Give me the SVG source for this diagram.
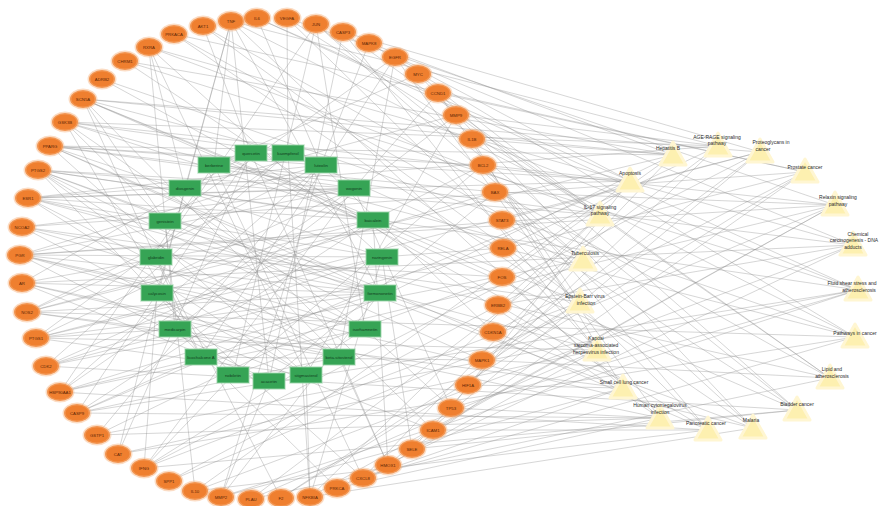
<svg xmlns="http://www.w3.org/2000/svg" width="883" height="506" viewBox="0 0 883 506">
<style>
.bg{fill:#ffffff}
#edges path{stroke:#8a8a8a;stroke-width:0.65;fill:none;stroke-opacity:0.55}
.o ellipse{fill:#ef7f2f;stroke:#f7b27c;stroke-width:3;stroke-opacity:0.45}
.g rect{fill:#36a455;stroke:#9fd6ab;stroke-width:1.5;stroke-opacity:0.6}
.p polygon{fill:#fdf0b0;stroke:#fff6d2;stroke-width:3;stroke-linejoin:round}
.o text{font-family:"Liberation Sans",Arial,sans-serif;font-size:4.3px;fill:#5b2506;text-anchor:middle;dominant-baseline:central}
.g text{font-family:"Liberation Sans",Arial,sans-serif;font-size:4.3px;fill:#123d1e;text-anchor:middle;dominant-baseline:central}
.p text{font-family:"Liberation Sans",Arial,sans-serif;font-size:5px;fill:#2b2b2b;text-anchor:middle}
</style>
<rect class="bg" x="0" y="0" width="883" height="506"/>
<g id="edges">
<path d="M77 413L630 181"/><path d="M77 413L858 290"/><path d="M77 413L660 418"/>
<path d="M60 392L835 205"/><path d="M60 392L708 430"/>
<path d="M46 366L797 410"/><path d="M46 366L583 260"/><path d="M46 366L805 172"/>
<path d="M36 338L597 350"/><path d="M36 338L760 152"/>
<path d="M27 312L673 155"/><path d="M27 312L855 337"/><path d="M27 312L623 388"/>
<path d="M22 283L853 245"/><path d="M22 283L660 418"/>
<path d="M20 255L753 428"/><path d="M20 255L600 215"/><path d="M20 255L835 205"/>
<path d="M22 227L580 302"/><path d="M22 227L805 172"/>
<path d="M28 198L718 146"/><path d="M28 198L830 378"/><path d="M28 198L597 350"/>
<path d="M38 170L858 290"/><path d="M38 170L623 388"/>
<path d="M50 146L708 430"/><path d="M50 146L630 181"/><path d="M50 146L853 245"/>
<path d="M65 122L583 260"/><path d="M65 122L835 205"/>
<path d="M83 99L760 152"/><path d="M83 99L797 410"/><path d="M83 99L580 302"/>
<path d="M102 79L855 337"/><path d="M102 79L597 350"/>
<path d="M125 61L660 418"/><path d="M125 61L673 155"/><path d="M125 61L858 290"/>
<path d="M149 47L600 215"/><path d="M149 47L853 245"/>
<path d="M174 34L805 172"/><path d="M174 34L753 428"/><path d="M174 34L583 260"/>
<path d="M203 26L830 378"/><path d="M203 26L580 302"/>
<path d="M231 21L623 388"/><path d="M231 21L718 146"/><path d="M231 21L855 337"/>
<path d="M257 18L630 181"/><path d="M257 18L858 290"/>
<path d="M287 18L835 205"/><path d="M287 18L708 430"/><path d="M287 18L600 215"/>
<path d="M316 24L797 410"/><path d="M316 24L583 260"/>
<path d="M343 32L597 350"/><path d="M343 32L760 152"/><path d="M343 32L830 378"/>
<path d="M369 43L673 155"/><path d="M369 43L855 337"/>
<path d="M395 57L853 245"/><path d="M395 57L660 418"/><path d="M395 57L630 181"/>
<path d="M418 74L753 428"/><path d="M418 74L600 215"/>
<path d="M438 93L580 302"/><path d="M438 93L805 172"/><path d="M438 93L797 410"/>
<path d="M456 115L718 146"/><path d="M456 115L830 378"/>
<path d="M472 139L858 290"/><path d="M472 139L623 388"/><path d="M472 139L673 155"/>
<path d="M483 165L708 430"/><path d="M483 165L630 181"/>
<path d="M495 192L583 260"/><path d="M495 192L835 205"/><path d="M495 192L753 428"/>
<path d="M502 220L760 152"/><path d="M502 220L797 410"/>
<path d="M503 248L855 337"/><path d="M503 248L597 350"/><path d="M503 248L718 146"/>
<path d="M502 277L660 418"/><path d="M502 277L673 155"/>
<path d="M498 305L600 215"/><path d="M498 305L853 245"/><path d="M498 305L708 430"/>
<path d="M493 332L805 172"/><path d="M493 332L753 428"/>
<path d="M482 360L830 378"/><path d="M482 360L580 302"/><path d="M482 360L760 152"/>
<path d="M468 385L623 388"/><path d="M468 385L718 146"/>
<path d="M451 408L630 181"/><path d="M451 408L858 290"/><path d="M451 408L660 418"/>
<path d="M433 430L835 205"/><path d="M433 430L708 430"/>
<path d="M412 449L797 410"/><path d="M412 449L583 260"/><path d="M412 449L805 172"/>
<path d="M388 465L597 350"/><path d="M388 465L760 152"/>
<path d="M363 478L673 155"/><path d="M363 478L855 337"/><path d="M363 478L623 388"/>
<path d="M337 488L853 245"/><path d="M337 488L660 418"/>
<path d="M310 497L753 428"/><path d="M310 497L600 215"/><path d="M310 497L835 205"/>
<path d="M281 498L580 302"/><path d="M281 498L805 172"/>
<path d="M251 499L718 146"/><path d="M251 499L830 378"/><path d="M251 499L597 350"/>
<path d="M221 497L858 290"/><path d="M221 497L623 388"/>
<path d="M195 491L708 430"/><path d="M195 491L630 181"/><path d="M195 491L853 245"/>
<path d="M169 481L583 260"/><path d="M169 481L835 205"/>
<path d="M144 468L760 152"/><path d="M144 468L797 410"/><path d="M144 468L580 302"/>
<path d="M118 454L855 337"/><path d="M118 454L597 350"/>
<path d="M97 435L660 418"/><path d="M97 435L673 155"/><path d="M97 435L858 290"/>
<path d="M65 122L718 146"/><path d="M50 146L673 155"/><path d="M38 170L600 215"/><path d="M83 99L673 155"/><path d="M28 198L630 181"/>
<path d="M251 153L77 413"/><path d="M251 153L203 26"/><path d="M251 153L483 165"/><path d="M251 153L388 465"/><path d="M251 153L22 283"/>
<path d="M288 153L36 338"/><path d="M288 153L287 18"/><path d="M288 153L503 248"/><path d="M288 153L310 497"/><path d="M288 153L83 99"/>
<path d="M321 165L20 255"/><path d="M321 165L369 43"/><path d="M321 165L493 332"/><path d="M321 165L221 497"/><path d="M321 165L257 18"/>
<path d="M354 188L38 170"/><path d="M354 188L438 93"/><path d="M354 188L451 408"/><path d="M354 188L144 468"/><path d="M354 188L28 198"/>
<path d="M373 220L83 99"/><path d="M373 220L483 165"/><path d="M373 220L388 465"/><path d="M373 220L77 413"/><path d="M373 220L502 277"/>
<path d="M382 257L149 47"/><path d="M382 257L503 248"/><path d="M382 257L310 497"/><path d="M382 257L36 338"/><path d="M382 257L412 449"/>
<path d="M380 293L231 21"/><path d="M380 293L493 332"/><path d="M380 293L221 497"/><path d="M380 293L20 255"/><path d="M380 293L27 312"/>
<path d="M365 329L316 24"/><path d="M365 329L451 408"/><path d="M365 329L144 468"/><path d="M365 329L38 170"/><path d="M365 329L60 392"/>
<path d="M339 357L395 57"/><path d="M339 357L388 465"/><path d="M339 357L77 413"/><path d="M339 357L83 99"/><path d="M339 357L28 198"/>
<path d="M306 375L456 115"/><path d="M306 375L310 497"/><path d="M306 375L36 338"/><path d="M306 375L149 47"/><path d="M306 375L50 146"/>
<path d="M269 381L495 192"/><path d="M269 381L221 497"/><path d="M269 381L20 255"/><path d="M269 381L231 21"/><path d="M269 381L343 32"/>
<path d="M233 375L502 277"/><path d="M233 375L144 468"/><path d="M233 375L38 170"/><path d="M233 375L316 24"/><path d="M233 375L483 165"/>
<path d="M201 357L482 360"/><path d="M201 357L77 413"/><path d="M201 357L83 99"/><path d="M201 357L395 57"/><path d="M201 357L65 122"/>
<path d="M175 329L433 430"/><path d="M175 329L36 338"/><path d="M175 329L149 47"/><path d="M175 329L456 115"/><path d="M175 329L337 488"/>
<path d="M157 293L363 478"/><path d="M157 293L20 255"/><path d="M157 293L231 21"/><path d="M157 293L495 192"/><path d="M157 293L144 468"/>
<path d="M156 257L281 498"/><path d="M156 257L38 170"/><path d="M156 257L316 24"/><path d="M156 257L502 277"/><path d="M156 257L27 312"/>
<path d="M165 221L195 491"/><path d="M165 221L83 99"/><path d="M165 221L395 57"/><path d="M165 221L482 360"/><path d="M165 221L65 122"/>
<path d="M185 188L118 454"/><path d="M185 188L149 47"/><path d="M185 188L456 115"/><path d="M185 188L433 430"/><path d="M185 188L231 21"/>
<path d="M214 165L60 392"/><path d="M214 165L231 21"/><path d="M214 165L495 192"/><path d="M214 165L363 478"/><path d="M214 165L418 74"/>
<path d="M27 312L373 220"/><path d="M22 283L380 293"/><path d="M20 255L354 188"/><path d="M22 227L365 329"/>
<path d="M28 198L321 165"/><path d="M38 170L373 220"/><path d="M50 146L354 188"/><path d="M65 122L288 153"/>
<path d="M22 283L339 357"/><path d="M22 227L306 375"/><path d="M50 146L380 293"/><path d="M28 198L382 257"/>
<path d="M46 366L373 220"/><path d="M60 392L354 188"/><path d="M97 435L321 165"/><path d="M118 454L251 153"/>
<path d="M27 312L321 165"/><path d="M27 312L339 357"/><path d="M22 283L373 220"/><path d="M22 283L269 381"/>
<path d="M20 255L382 257"/><path d="M20 255L365 329"/><path d="M22 227L354 188"/><path d="M22 227L380 293"/>
<path d="M28 198L306 375"/><path d="M28 198L373 220"/><path d="M38 170L380 293"/><path d="M38 170L339 357"/>
<path d="M50 146L321 165"/><path d="M50 146L382 257"/><path d="M65 122L373 220"/><path d="M65 122L365 329"/>
<path d="M36 338L354 188"/><path d="M36 338L380 293"/><path d="M46 366L382 257"/><path d="M46 366L288 153"/>
<path d="M60 392L380 293"/><path d="M60 392L321 165"/>
</g>
<g id="n-CASP9" class="o"><ellipse cx="77" cy="413" rx="13" ry="9"/><text x="77" y="413">CASP9</text></g>
<g id="n-HSP90AA1" class="o"><ellipse cx="60" cy="392" rx="13" ry="9"/><text x="60" y="392">HSP90AA1</text></g>
<g id="n-CDK2" class="o"><ellipse cx="46" cy="366" rx="13" ry="9"/><text x="46" y="366">CDK2</text></g>
<g id="n-PTGS1" class="o"><ellipse cx="36" cy="338" rx="13" ry="9"/><text x="36" y="338">PTGS1</text></g>
<g id="n-NOS2" class="o"><ellipse cx="27" cy="312" rx="13" ry="9"/><text x="27" y="312">NOS2</text></g>
<g id="n-AR" class="o"><ellipse cx="22" cy="283" rx="13" ry="9"/><text x="22" y="283">AR</text></g>
<g id="n-PGR" class="o"><ellipse cx="20" cy="255" rx="13" ry="9"/><text x="20" y="255">PGR</text></g>
<g id="n-NCOA2" class="o"><ellipse cx="22" cy="227" rx="13" ry="9"/><text x="22" y="227">NCOA2</text></g>
<g id="n-ESR1" class="o"><ellipse cx="28" cy="198" rx="13" ry="9"/><text x="28" y="198">ESR1</text></g>
<g id="n-PTGS2" class="o"><ellipse cx="38" cy="170" rx="13" ry="9"/><text x="38" y="170">PTGS2</text></g>
<g id="n-PPARG" class="o"><ellipse cx="50" cy="146" rx="13" ry="9"/><text x="50" y="146">PPARG</text></g>
<g id="n-GSK3B" class="o"><ellipse cx="65" cy="122" rx="13" ry="9"/><text x="65" y="122">GSK3B</text></g>
<g id="n-SCN5A" class="o"><ellipse cx="83" cy="99" rx="13" ry="9"/><text x="83" y="99">SCN5A</text></g>
<g id="n-ADRB2" class="o"><ellipse cx="102" cy="79" rx="13" ry="9"/><text x="102" y="79">ADRB2</text></g>
<g id="n-CHRM1" class="o"><ellipse cx="125" cy="61" rx="13" ry="9"/><text x="125" y="61">CHRM1</text></g>
<g id="n-RXRA" class="o"><ellipse cx="149" cy="47" rx="13" ry="9"/><text x="149" y="47">RXRA</text></g>
<g id="n-PRKACA" class="o"><ellipse cx="174" cy="34" rx="13" ry="9"/><text x="174" y="34">PRKACA</text></g>
<g id="n-AKT1" class="o"><ellipse cx="203" cy="26" rx="13" ry="9"/><text x="203" y="26">AKT1</text></g>
<g id="n-TNF" class="o"><ellipse cx="231" cy="21" rx="13" ry="9"/><text x="231" y="21">TNF</text></g>
<g id="n-IL6" class="o"><ellipse cx="257" cy="18" rx="13" ry="9"/><text x="257" y="18">IL6</text></g>
<g id="n-VEGFA" class="o"><ellipse cx="287" cy="18" rx="13" ry="9"/><text x="287" y="18">VEGFA</text></g>
<g id="n-JUN" class="o"><ellipse cx="316" cy="24" rx="13" ry="9"/><text x="316" y="24">JUN</text></g>
<g id="n-CASP3" class="o"><ellipse cx="343" cy="32" rx="13" ry="9"/><text x="343" y="32">CASP3</text></g>
<g id="n-MAPK8" class="o"><ellipse cx="369" cy="43" rx="13" ry="9"/><text x="369" y="43">MAPK8</text></g>
<g id="n-EGFR" class="o"><ellipse cx="395" cy="57" rx="13" ry="9"/><text x="395" y="57">EGFR</text></g>
<g id="n-MYC" class="o"><ellipse cx="418" cy="74" rx="13" ry="9"/><text x="418" y="74">MYC</text></g>
<g id="n-CCND1" class="o"><ellipse cx="438" cy="93" rx="13" ry="9"/><text x="438" y="93">CCND1</text></g>
<g id="n-MMP9" class="o"><ellipse cx="456" cy="115" rx="13" ry="9"/><text x="456" y="115">MMP9</text></g>
<g id="n-IL1B" class="o"><ellipse cx="472" cy="139" rx="13" ry="9"/><text x="472" y="139">IL1B</text></g>
<g id="n-BCL2" class="o"><ellipse cx="483" cy="165" rx="13" ry="9"/><text x="483" y="165">BCL2</text></g>
<g id="n-BAX" class="o"><ellipse cx="495" cy="192" rx="13" ry="9"/><text x="495" y="192">BAX</text></g>
<g id="n-STAT3" class="o"><ellipse cx="502" cy="220" rx="13" ry="9"/><text x="502" y="220">STAT3</text></g>
<g id="n-RELA" class="o"><ellipse cx="503" cy="248" rx="13" ry="9"/><text x="503" y="248">RELA</text></g>
<g id="n-FOS" class="o"><ellipse cx="502" cy="277" rx="13" ry="9"/><text x="502" y="277">FOS</text></g>
<g id="n-ERBB2" class="o"><ellipse cx="498" cy="305" rx="13" ry="9"/><text x="498" y="305">ERBB2</text></g>
<g id="n-CDKN1A" class="o"><ellipse cx="493" cy="332" rx="13" ry="9"/><text x="493" y="332">CDKN1A</text></g>
<g id="n-MAPK1" class="o"><ellipse cx="482" cy="360" rx="13" ry="9"/><text x="482" y="360">MAPK1</text></g>
<g id="n-HIF1A" class="o"><ellipse cx="468" cy="385" rx="13" ry="9"/><text x="468" y="385">HIF1A</text></g>
<g id="n-TP53" class="o"><ellipse cx="451" cy="408" rx="13" ry="9"/><text x="451" y="408">TP53</text></g>
<g id="n-ICAM1" class="o"><ellipse cx="433" cy="430" rx="13" ry="9"/><text x="433" y="430">ICAM1</text></g>
<g id="n-SELE" class="o"><ellipse cx="412" cy="449" rx="13" ry="9"/><text x="412" y="449">SELE</text></g>
<g id="n-HMOX1" class="o"><ellipse cx="388" cy="465" rx="13" ry="9"/><text x="388" y="465">HMOX1</text></g>
<g id="n-CXCL8" class="o"><ellipse cx="363" cy="478" rx="13" ry="9"/><text x="363" y="478">CXCL8</text></g>
<g id="n-PRKCA" class="o"><ellipse cx="337" cy="488" rx="13" ry="9"/><text x="337" y="488">PRKCA</text></g>
<g id="n-NFKBIA" class="o"><ellipse cx="310" cy="497" rx="13" ry="9"/><text x="310" y="497">NFKBIA</text></g>
<g id="n-F2" class="o"><ellipse cx="281" cy="498" rx="13" ry="9"/><text x="281" y="498">F2</text></g>
<g id="n-PLAU" class="o"><ellipse cx="251" cy="499" rx="13" ry="9"/><text x="251" y="499">PLAU</text></g>
<g id="n-MMP2" class="o"><ellipse cx="221" cy="497" rx="13" ry="9"/><text x="221" y="497">MMP2</text></g>
<g id="n-IL10" class="o"><ellipse cx="195" cy="491" rx="13" ry="9"/><text x="195" y="491">IL10</text></g>
<g id="n-SPP1" class="o"><ellipse cx="169" cy="481" rx="13" ry="9"/><text x="169" y="481">SPP1</text></g>
<g id="n-IFNG" class="o"><ellipse cx="144" cy="468" rx="13" ry="9"/><text x="144" y="468">IFNG</text></g>
<g id="n-CAT" class="o"><ellipse cx="118" cy="454" rx="13" ry="9"/><text x="118" y="454">CAT</text></g>
<g id="n-GSTP1" class="o"><ellipse cx="97" cy="435" rx="13" ry="9"/><text x="97" y="435">GSTP1</text></g>
<g id="c-quercetin" class="g"><rect x="235" y="145" width="32" height="16"/><text x="251" y="153">quercetin</text></g>
<g id="c-kaempferol" class="g"><rect x="272" y="145" width="32" height="16"/><text x="288" y="153">kaempferol</text></g>
<g id="c-luteolin" class="g"><rect x="305" y="157" width="32" height="16"/><text x="321" y="165">luteolin</text></g>
<g id="c-wogonin" class="g"><rect x="338" y="180" width="32" height="16"/><text x="354" y="188">wogonin</text></g>
<g id="c-baicalein" class="g"><rect x="357" y="212" width="32" height="16"/><text x="373" y="220">baicalein</text></g>
<g id="c-naringenin" class="g"><rect x="366" y="249" width="32" height="16"/><text x="382" y="257">naringenin</text></g>
<g id="c-formononetin" class="g"><rect x="364" y="285" width="32" height="16"/><text x="380" y="293">formononetin</text></g>
<g id="c-isorhamnetin" class="g"><rect x="349" y="321" width="32" height="16"/><text x="365" y="329">isorhamnetin</text></g>
<g id="c-sitosterol" class="g"><rect x="323" y="349" width="32" height="16"/><text x="339" y="357">beta-sitosterol</text></g>
<g id="c-stigmasterol" class="g"><rect x="290" y="367" width="32" height="16"/><text x="306" y="375">stigmasterol</text></g>
<g id="c-acacetin" class="g"><rect x="253" y="373" width="32" height="16"/><text x="269" y="381">acacetin</text></g>
<g id="c-nobiletin" class="g"><rect x="217" y="367" width="32" height="16"/><text x="233" y="375">nobiletin</text></g>
<g id="c-licochalcone" class="g"><rect x="185" y="349" width="32" height="16"/><text x="201" y="357">licochalcone A</text></g>
<g id="c-medicarpin" class="g"><rect x="159" y="321" width="32" height="16"/><text x="175" y="329">medicarpin</text></g>
<g id="c-calycosin" class="g"><rect x="141" y="285" width="32" height="16"/><text x="157" y="293">calycosin</text></g>
<g id="c-glabridin" class="g"><rect x="140" y="249" width="32" height="16"/><text x="156" y="257">glabridin</text></g>
<g id="c-genistein" class="g"><rect x="149" y="213" width="32" height="16"/><text x="165" y="221">genistein</text></g>
<g id="c-diosgenin" class="g"><rect x="169" y="180" width="32" height="16"/><text x="185" y="188">diosgenin</text></g>
<g id="c-berberine" class="g"><rect x="198" y="157" width="32" height="16"/><text x="214" y="165">berberine</text></g>
<g id="p-apoptosis" class="p"><polygon points="630,168 617,191 643,191"/><text x="630" y="175">Apoptosis</text></g>
<g id="p-hepb" class="p"><polygon points="673,142 660,165 686,165"/><text x="668" y="150">Hepatitis B</text></g>
<g id="p-agerage" class="p"><polygon points="718,133 705,156 731,156"/><text x="717" y="139">AGE-RAGE signaling</text><text x="717" y="145">pathway</text></g>
<g id="p-proteoglycans" class="p"><polygon points="760,139 747,162 773,162"/><text x="771" y="144">Proteoglycans in</text><text x="763" y="151">cancer</text></g>
<g id="p-prostate" class="p"><polygon points="805,159 792,182 818,182"/><text x="805" y="169">Prostate cancer</text></g>
<g id="p-relaxin" class="p"><polygon points="835,192 822,215 848,215"/><text x="838" y="199">Relaxin signaling</text><text x="838" y="206">pathway</text></g>
<g id="p-chemcarc" class="p"><polygon points="853,232 840,255 866,255"/><text x="858" y="236">Chemical</text><text x="854" y="242">carcinogenesis - DNA</text><text x="853" y="249">adducts</text></g>
<g id="p-fluidshear" class="p"><polygon points="858,277 845,300 871,300"/><text x="852" y="285">Fluid shear stress and</text><text x="859" y="292">atherosclerosis</text></g>
<g id="p-pathcancer" class="p"><polygon points="855,324 842,347 868,347"/><text x="855" y="335">Pathways in cancer</text></g>
<g id="p-lipid" class="p"><polygon points="830,365 817,388 843,388"/><text x="832" y="371">Lipid and</text><text x="832" y="378">atherosclerosis</text></g>
<g id="p-bladder" class="p"><polygon points="797,397 784,420 810,420"/><text x="797" y="406">Bladder cancer</text></g>
<g id="p-malaria" class="p"><polygon points="753,415 740,438 766,438"/><text x="751" y="422">Malaria</text></g>
<g id="p-pancreatic" class="p"><polygon points="708,417 695,440 721,440"/><text x="706" y="425">Pancreatic cancer</text></g>
<g id="p-hcmv" class="p"><polygon points="660,405 647,428 673,428"/><text x="660" y="407">Human cytomegalovirus</text><text x="660" y="414">infection</text></g>
<g id="p-sclc" class="p"><polygon points="623,375 610,398 636,398"/><text x="624" y="384">Small cell lung cancer</text></g>
<g id="p-kshv" class="p"><polygon points="597,337 584,360 610,360"/><text x="596" y="340">Kaposi</text><text x="596" y="347">sarcoma-associated</text><text x="596" y="354">herpesvirus infection</text></g>
<g id="p-ebv" class="p"><polygon points="580,289 567,312 593,312"/><text x="585" y="298">Epstein-Barr virus</text><text x="586" y="305">infection</text></g>
<g id="p-tb" class="p"><polygon points="583,247 570,270 596,270"/><text x="585" y="255">Tuberculosis</text></g>
<g id="p-il17" class="p"><polygon points="600,202 587,225 613,225"/><text x="600" y="209">IL-17 signaling</text><text x="600" y="215">pathway</text></g>
</svg>
